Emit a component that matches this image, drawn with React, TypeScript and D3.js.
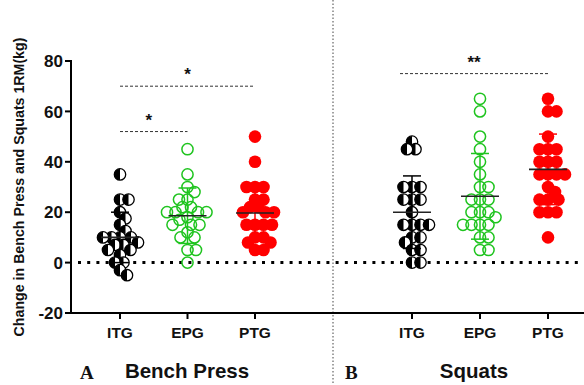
import React from "react";
import * as d3 from "d3";

const groups = ["ITG", "EPG", "PTG"];
const panels = ["Bench Press", "Squats"];
const panelLetters = ["A", "B"];
const yTicks = [-20, 0, 20, 40, 60, 80];

const benchITG = [35, 25, 25, 20, 17.5, 15, 12.5, 10, 10, 10, 10, 8, 7, 7, 5, 5, 3, 0, 0, -3, -5];
const benchEPG = [45, 35, 30, 28, 25, 25, 22, 22, 20, 20, 20, 20, 18, 17, 15, 15, 15, 12, 10, 10, 5, 5, 0];
const benchPTG = [50, 40, 30, 30, 30, 25, 25, 22, 22, 20, 20, 20, 15, 15, 15, 15, 10, 10, 8, 8, 5, 5];
const squatITG = [48, 45, 45, 30, 30, 30, 25, 25, 25, 20, 15, 15, 15, 15, 10, 10, 8, 5, 5, 0, 0];
const squatEPG = [65, 60, 50, 45, 40, 35, 30, 30, 25, 25, 25, 20, 20, 20, 18, 15, 15, 15, 15, 10, 10, 5, 5];
const squatPTG = [65, 60, 60, 50, 45, 45, 45, 40, 40, 40, 35, 35, 35, 35, 30, 28, 25, 25, 25, 20, 20, 20, 10];

const benchMeans = [10, 18.6, 19.7];
const benchSDs = [10, 11, 10];
const squatMeans = [20, 26.3, 37];
const squatSDs = [14.4, 17, 14];

// significance brackets
const sigPanel = [0, 0, 1];
const sigFrom = ["ITG", "ITG", "ITG"];
const sigTo = ["EPG", "PTG", "PTG"];
const sigLevel = [52, 70, 75];
const sigLabel = ["*", "*", "**"];

const W = 584;
const H = 385;
const colors = ["#000000", "#1fc41f", "#ff0000"];
const R = 6.3;
const FONT = "Arial, 'Liberation Sans', sans-serif";

const panelData = [
  [benchITG, benchEPG, benchPTG],
  [squatITG, squatEPG, squatPTG],
];
const panelMeans = [benchMeans, squatMeans];
const panelSDs = [benchSDs, squatSDs];

const y = d3.scaleLinear().domain([-20, 80]).range([313, 61]);
const xScales = [
  d3.scalePoint<string>().domain(groups).range([120, 255]),
  d3.scalePoint<string>().domain(groups).range([412, 548]),
];

function swarm(values: number[], cx: number) {
  const placed: { x: number; y: number }[] = [];
  const minD = 8.3;
  const order = values.map((v, i) => i).sort((a, b) => values[b] - values[a]);
  const out: { x: number; y: number; v: number }[] = [];
  for (const i of order) {
    const py = y(values[i]);
    let chosen = 0;
    for (let k = 0; k < 200; k++) {
      const off = k === 0 ? 0 : (k % 2 === 1 ? 1 : -1) * Math.ceil(k / 2) * 0.5;
      const px = cx + off;
      const ok = placed.every((p) => Math.hypot(p.x - px, p.y - py) >= minD);
      if (ok) {
        chosen = off;
        break;
      }
    }
    placed.push({ x: cx + chosen, y: py });
    out.push({ x: cx + chosen, y: py, v: values[i] });
  }
  return out;
}

function Marker({ x, yy, g }: { x: number; yy: number; g: number }) {
  if (g === 0) {
    return (
      <g>
        <circle cx={x} cy={yy} r={R - 0.6} fill="#fff" stroke="#000" strokeWidth={1.3} />
        <path
          d={`M${x},${yy - R + 0.6} A${R - 0.6},${R - 0.6} 0 0 0 ${x},${yy + R - 0.6} Z`}
          fill="#000"
        />
      </g>
    );
  }
  if (g === 1) {
    return <circle cx={x} cy={yy} r={R - 0.7} fill="none" stroke={colors[1]} strokeWidth={1.5} />;
  }
  return <circle cx={x} cy={yy} r={R} fill={colors[2]} />;
}

export default function App() {
  return (
    <svg width={W} height={H} style={{ display: "block", position: "absolute", left: 0, top: 0, background: "#fff" }}>
      <rect width={W} height={H} fill="#fff" />
      <line x1={333} x2={333} y1={0} y2={H} stroke="#444" strokeWidth={1} strokeDasharray="1.5 2" />

      <line x1={78} x2={W} y1={y(0)} y2={y(0)} stroke="#000" strokeWidth={3} strokeDasharray="3 6.2" />

      <line x1={71} x2={71} y1={y(80) - 1} y2={y(-20)} stroke="#000" strokeWidth={2} />
      {yTicks.map((t) => (
        <g key={t}>
          <line x1={65} x2={71} y1={y(t)} y2={y(t)} stroke="#000" strokeWidth={2} />
          <text
            x={63}
            y={y(t)}
            dy="0.36em"
            textAnchor="end"
            fontFamily={FONT}
            fontWeight="bold"
            fontSize={17}
            fill="#111"
          >
            {t}
          </text>
        </g>
      ))}
      <text
        transform={`translate(24,${187}) rotate(-90)`}
        textAnchor="middle"
        fontFamily={FONT}
        fontWeight="bold"
        fontSize={14.2}
        fill="#111"
      >
        Change in Bench Press and Squats 1RM(kg)
      </text>

      <line x1={70} x2={W} y1={y(-20)} y2={y(-20)} stroke="#000" strokeWidth={2} />

      {panels.map((pname, p) => {
        const xs = xScales[p];
        return (
          <g key={pname}>
            {groups.map((g, gi) => {
              const cx = xs(g)!;
              const pts = swarm(panelData[p][gi], cx);
              const m = panelMeans[p][gi];
              const sd = panelSDs[p][gi];
              const col = colors[gi];
              return (
                <g key={g}>
                  <line x1={cx} x2={cx} y1={y(-20)} y2={y(-20) + 6} stroke="#000" strokeWidth={2} />
                  <text
                    x={cx}
                    y={338}
                    textAnchor="middle"
                    fontFamily={FONT}
                    fontWeight="bold"
                    fontSize={15.5}
                    fill="#111"
                  >
                    {g}
                  </text>
                  {pts.map((pt, i) => (
                    <Marker key={i} x={pt.x} yy={pt.y} g={gi} />
                  ))}
                  <line x1={cx} x2={cx} y1={y(m + sd)} y2={y(m - sd)} stroke={col} strokeWidth={1.5} />
                  <line x1={cx - 9} x2={cx + 9} y1={y(m + sd)} y2={y(m + sd)} stroke={col} strokeWidth={1.5} />
                  <line x1={cx - 9} x2={cx + 9} y1={y(m - sd)} y2={y(m - sd)} stroke={col} strokeWidth={1.5} />
                  <line x1={cx - 19} x2={cx + 19} y1={y(m)} y2={y(m)} stroke="#222" strokeWidth={1.6} />
                </g>
              );
            })}
            <text
              x={p === 0 ? 80 : 345}
              y={379}
              fontFamily="'Liberation Serif', 'DejaVu Serif', serif"
              fontWeight="bold"
              fontSize={19}
              fill="#111"
            >
              {panelLetters[p]}
            </text>
            <text
              x={p === 0 ? 187 : 474}
              y={377.5}
              textAnchor="middle"
              fontFamily={FONT}
              fontWeight="bold"
              fontSize={20.5}
              fill="#111"
            >
              {pname}
            </text>
          </g>
        );
      })}

      {sigLevel.map((lv, i) => {
        const xs = xScales[sigPanel[i]];
        const x1 = xs(sigFrom[i])! - (sigPanel[i] === 1 ? 12 : 0);
        const x2 = xs(sigTo[i])!;
        const ly = y(lv);
        return (
          <g key={i}>
            <line x1={x1} x2={x2} y1={ly} y2={ly} stroke="#333" strokeWidth={1} strokeDasharray="3 2" />
            <text
              x={(x1 + x2) / 2 + (i === 0 ? -5 : 0)}
              y={ly - 6}
              textAnchor="middle"
              fontFamily={FONT}
              fontWeight="bold"
              fontSize={17}
              fill="#111"
            >
              {sigLabel[i]}
            </text>
          </g>
        );
      })}
    </svg>
  );
}
